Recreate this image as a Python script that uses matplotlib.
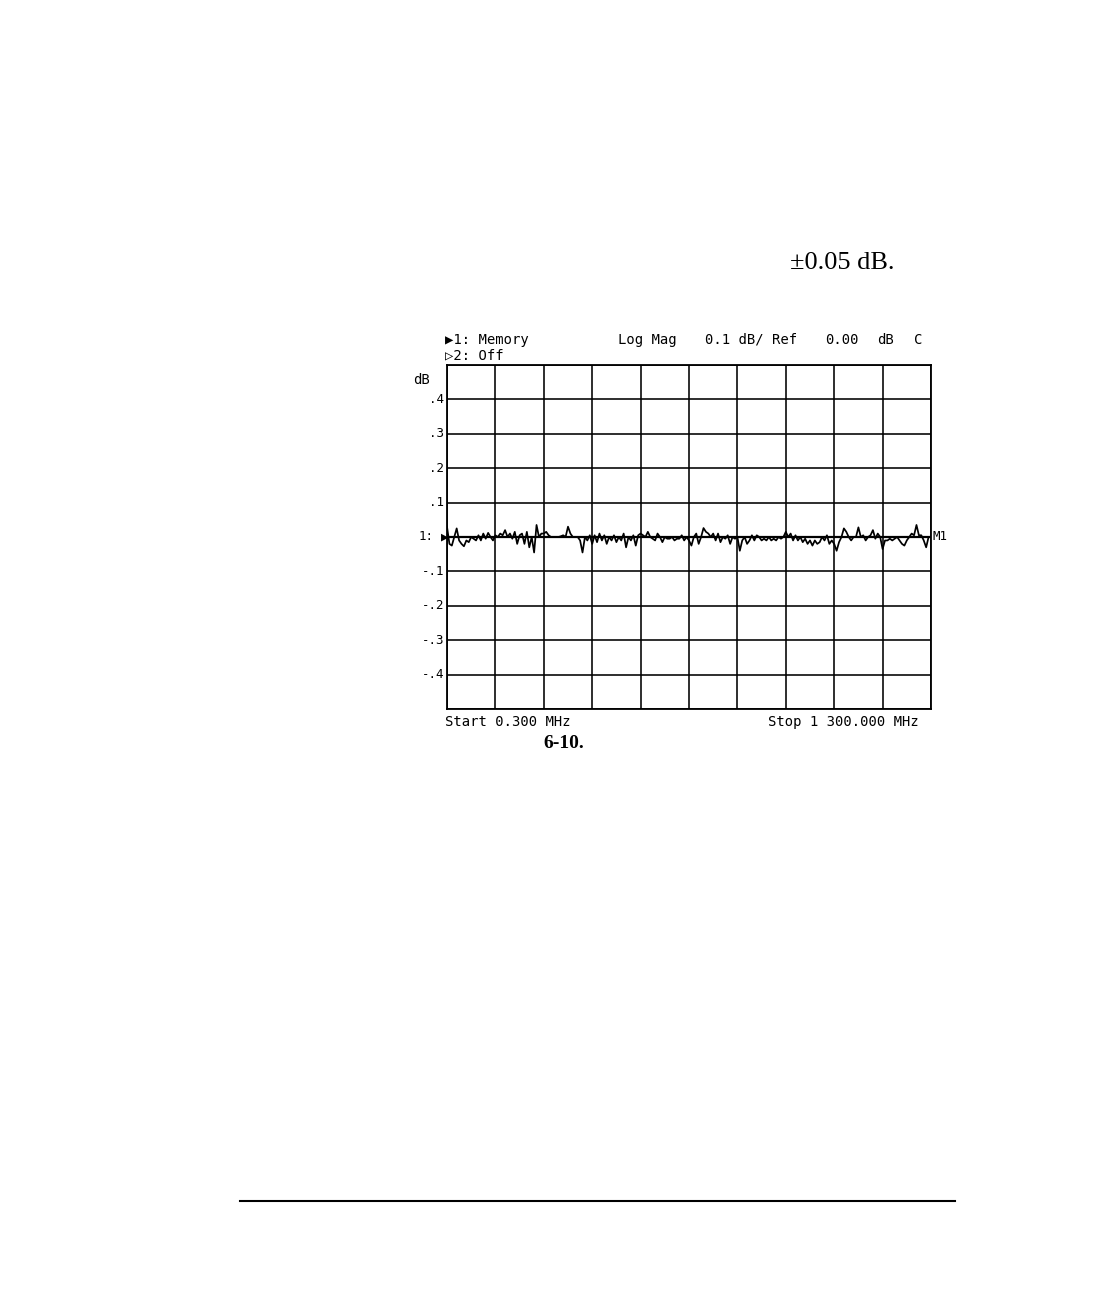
import numpy as np
import matplotlib
matplotlib.use("Agg")
import matplotlib.pyplot as plt
from matplotlib.lines import Line2D

# ---- data ----
start_mhz = 0.3
stop_mhz = 1300.0
trace_db = [
    0.03, -0.02, -0.025, 0.0, 0.025, -0.01, -0.02, -0.027, -0.01, -0.015,
    0.0, -0.005, -0.01, 0.005, -0.01, 0.01, -0.005, 0.012, 0.0, -0.01,
    0.005, 0.0, 0.01, 0.005, 0.02, 0.0, 0.01, -0.005, 0.015, -0.02,
    0.005, 0.01, -0.02, 0.015, -0.03, 0.0, -0.045, 0.035, 0.0, 0.01,
    0.01, 0.015, 0.005, 0.0, 0.0, 0.0, 0.0, 0.002, 0.005, 0.0,
    0.03, 0.01, 0.0, 0.0, 0.0, -0.01, -0.045, 0.0, -0.01, 0.005,
    -0.02, 0.005, -0.015, 0.01, -0.01, 0.005, -0.02, 0.0, -0.01, 0.005,
    -0.015, 0.0, -0.01, 0.01, -0.03, 0.0, -0.01, 0.005, -0.025, 0.005,
    0.01, 0.005, 0.0, 0.015, 0.0, -0.005, -0.01, 0.01, 0.0, -0.015,
    0.0, -0.005, -0.005, 0.0, -0.01, -0.005, -0.005, 0.005, -0.01, 0.0,
    -0.01, -0.025, 0.0, 0.01, -0.02, 0.0, 0.026, 0.015, 0.01, 0.0,
    0.01, -0.01, 0.01, -0.015, 0.0, -0.005, 0.005, -0.02, 0.0, -0.005,
    0.0, -0.04, -0.01, 0.0, -0.02, -0.01, 0.005, -0.01, 0.005, 0.0,
    -0.01, -0.005, -0.01, 0.0, -0.01, -0.005, -0.01, 0.0, -0.005, 0.0,
    0.015, 0.0, 0.01, -0.01, 0.005, -0.01, 0.0, -0.015, -0.005, -0.02,
    -0.01, -0.025, -0.01, -0.02, -0.015, 0.0, -0.01, 0.005, -0.02, -0.01,
    -0.02, -0.04, -0.015, 0.0, 0.025, 0.015, 0.0, -0.01, 0.0, 0.0,
    0.028, 0.0, 0.005, -0.01, 0.0, 0.005, 0.02, -0.005, 0.01, 0.0,
    -0.035, -0.01, -0.01, -0.005, -0.01, -0.005, 0.0, -0.01, -0.02, -0.025,
    -0.01, 0.0, 0.01, 0.005, 0.035, 0.005, 0.005, -0.01, -0.03, 0.0,
    0.0,
]
y_ticks = [0.4, 0.3, 0.2, 0.1, 0.0, -0.1, -0.2, -0.3, -0.4]
y_labels = [".4", ".3", ".2", ".1", "1:", "-.1", "-.2", "-.3", "-.4"]
header_left_1 = "\u25B61: Memory"
header_left_2 = "\u25B72: Off"
header_right_parts = ["Log Mag", "0.1 dB/ Ref", "0.00", "dB", "C"]
header_right_x = [618, 705, 825, 877, 914]
start_label = "Start 0.300 MHz"
stop_label = "Stop 1 300.000 MHz"

mono = ["DejaVu Sans Mono", "DejaVu Sans"]
FS = 10

fig = plt.figure(figsize=(10.94, 13.08), dpi=100)
fig.patch.set_facecolor("white")

ax = fig.add_axes([447/1094, 1-709/1308, 484/1094, 344/1308])
freqs = np.linspace(start_mhz, stop_mhz, len(trace_db))
ax.plot(freqs, trace_db, color="black", lw=1.25)
ax.axhline(0, color="black", lw=1.6)
ax.set_xlim(start_mhz, stop_mhz)
ax.set_ylim(-0.5, 0.5)
ax.set_xticks(np.linspace(start_mhz, stop_mhz, 11))
ax.set_yticks(np.linspace(-0.5, 0.5, 11))
ax.grid(True, color="black", lw=1.15)
ax.tick_params(length=0, labelbottom=False, labelleft=False)
for s in ax.spines.values():
    s.set_linewidth(1.3)

for yv, lab in zip(y_ticks, y_labels):
    ax.annotate(lab, xy=(0, yv), xycoords=("axes fraction", "data"),
                xytext=(-10 if yv == 0 else -2, 0), textcoords="offset points",
                ha="right", va="center", fontsize=9, family=mono)
ax.annotate("\u25B6", xy=(0, 0), xycoords=("axes fraction", "data"),
            xytext=(1, 0), textcoords="offset points",
            ha="right", va="center", fontsize=9, family=mono)
ax.annotate("M1", xy=(1, 0), xycoords=("axes fraction", "data"),
            xytext=(1, 0), textcoords="offset points",
            ha="left", va="center", fontsize=9, family=mono)

fig.text(413/1094, 1-380/1308, "dB", fontsize=FS, family=mono, va="center")
fig.text(445/1094, 1-340/1308, header_left_1, fontsize=FS, family=mono, va="center")
fig.text(445/1094, 1-355/1308, header_left_2, fontsize=FS, family=mono, va="center")
for part, px in zip(header_right_parts, header_right_x):
    fig.text(px/1094, 1-340/1308, part, fontsize=FS, family=mono, va="center")
fig.text(445/1094, 1-722/1308, start_label, fontsize=FS, family=mono, va="center")
fig.text(919/1094, 1-722/1308, stop_label, fontsize=FS, family=mono,
         va="center", ha="right")
fig.text(543/1094, 1-743/1308, "6-10.", fontsize=14, family="Liberation Serif",
         weight="bold", va="center")
fig.text(790/1094, 1-263/1308, "\u00B10.05 dB.", fontsize=19,
         family="Liberation Serif", va="center")

fig.add_artist(Line2D([240/1094, 955/1094], [1-1201/1308, 1-1201/1308],
                      color="black", lw=1.5))

fig.savefig("out.png", dpi=100, facecolor="white")
